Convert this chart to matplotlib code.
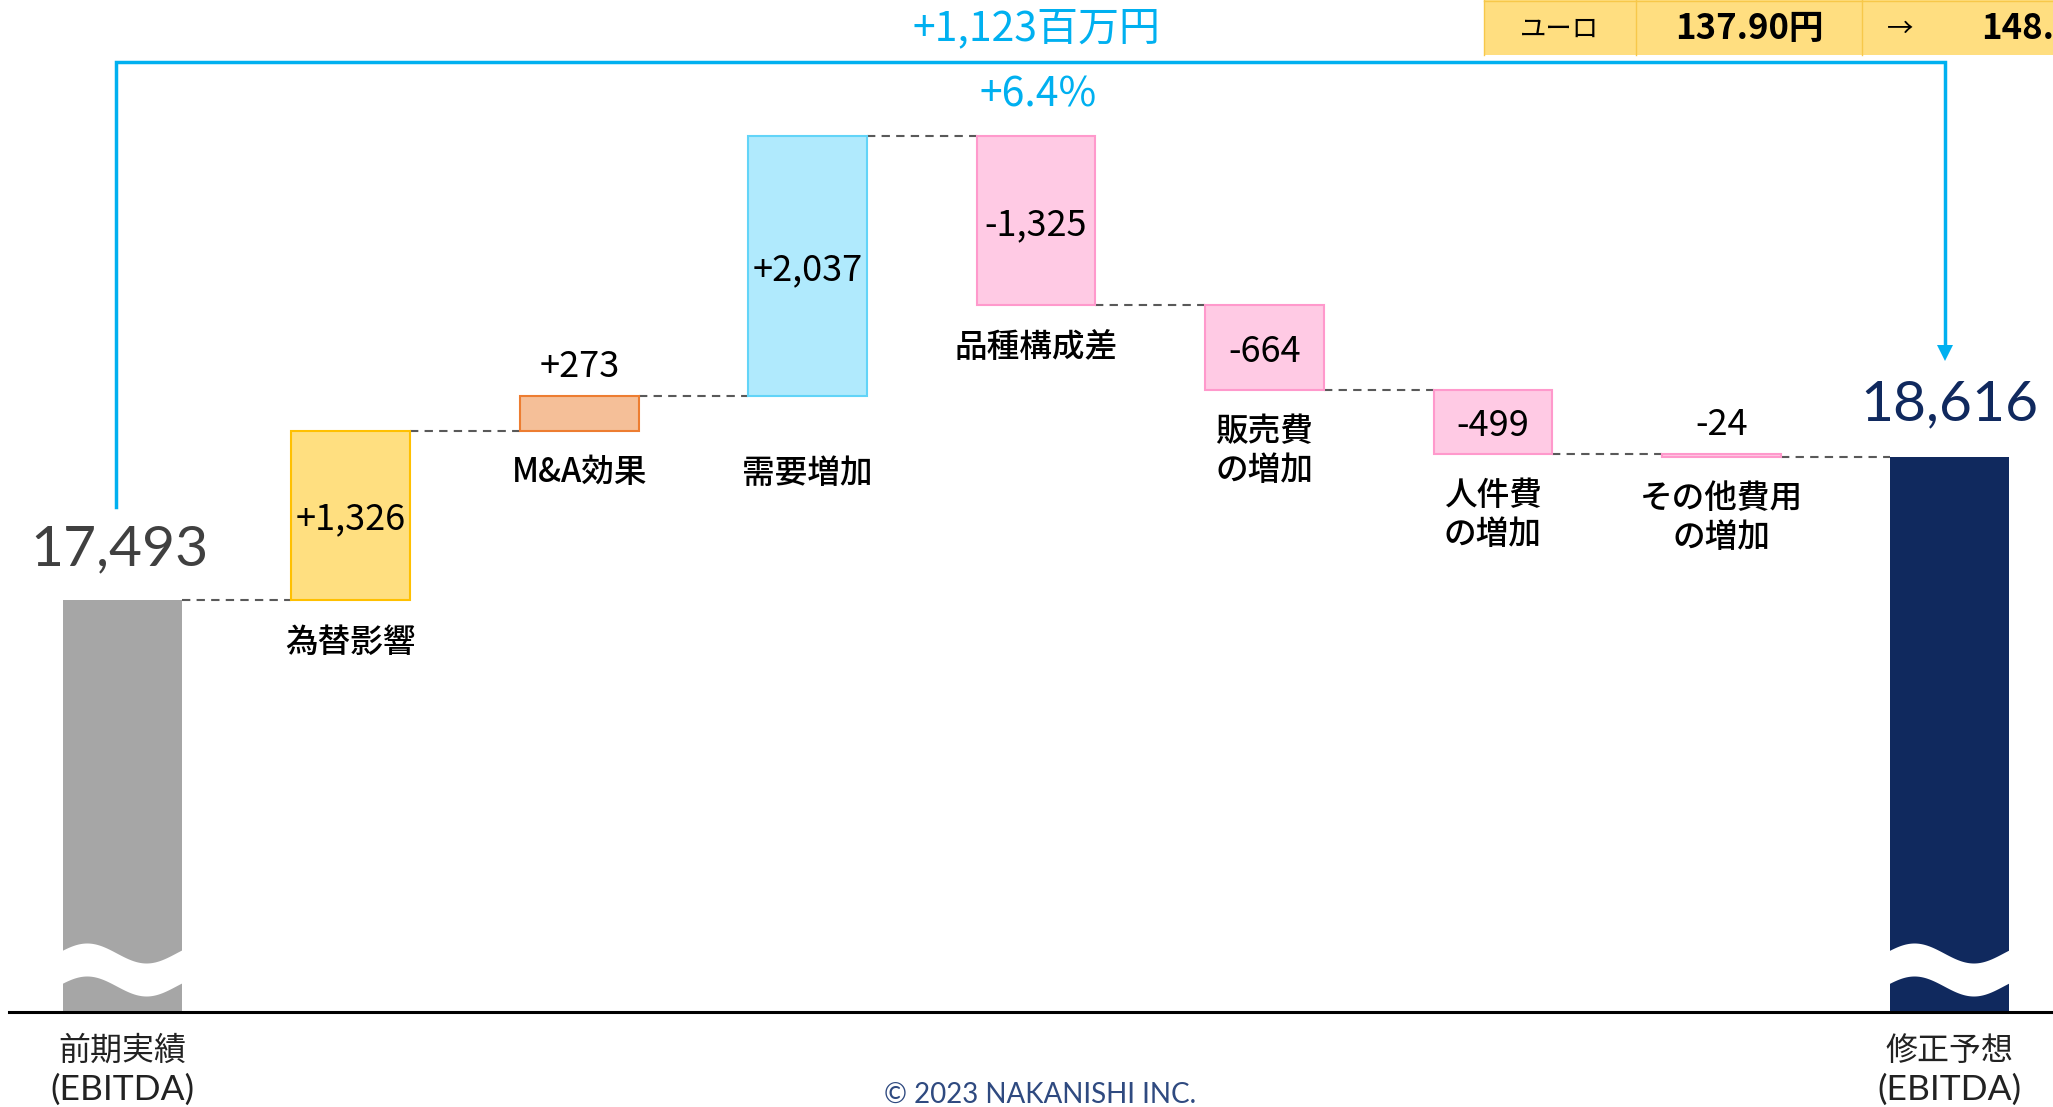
import matplotlib
matplotlib.use("Agg")
import matplotlib.pyplot as plt
import numpy as np
from matplotlib.patches import Rectangle, Polygon

# ---------------- data ----------------
start_value = 17493
end_value = 18616
start_label = "17,493"
end_label = "18,616"
end_bar_labels = ["前期実績\n(EBITDA)", "修正予想\n(EBITDA)"]
delta_categories = ["為替影響", "M&A効果", "需要増加", "品種構成差",
                    "販売費\nの増加", "人件費\nの増加", "その他費用\nの増加"]
deltas = [1326, 273, 2037, -1325, -664, -499, -24]
delta_labels = ["+1,326", "+273", "+2,037", "-1,325", "-664", "-499", "-24"]
total_change_label = "+1,123百万円"
total_change_pct = "+6.4%"
fx_cells = ["ユーロ", "137.90円", "→", "148.80円"]
copyright_text = "© 2023 NAKANISHI INC."

# ---------------- style ----------------
W, H, DPI = 2053, 1107, 100
JP = ["Noto Sans CJK JP", "DejaVu Sans"]
LAT = ["Lato", "Noto Sans CJK JP", "DejaVu Sans"]
plt.rcParams["font.family"] = JP

fills = ["#FFDF80", "#F5BF98", "#B0EAFD", "#FFCAE4", "#FFCAE4", "#FFCAE4", "#FFCAE4"]
edges = ["#FFC000", "#ED7D31", "#62D4F8", "#FF99CC", "#FF99CC", "#FF99CC", "#FF99CC"]
GRAY = "#A6A6A6"
NAVY = "#10295E"
CYAN = "#00B0F0"
BW = 0.52
XL = (-0.536, 8.452)
YL = (13517, 22199)
BASE = 14262  # axis-break baseline

fig = plt.figure(figsize=(W / DPI, H / DPI), dpi=DPI)
ax = fig.add_axes([0, 0, 1, 1])
ax.set_xlim(*XL)
ax.set_ylim(*YL)
ax.axis("off")

ov = fig.add_axes([0, 0, 1, 1], zorder=5)
ov.set_xlim(0, W)
ov.set_ylim(H, 0)
ov.axis("off")
ov.patch.set_alpha(0)


def px(xd):
    return (xd - XL[0]) / (XL[1] - XL[0]) * W


n = len(deltas)
idx = np.arange(1, n + 1)
levels = start_value + np.concatenate([[0], np.cumsum(deltas)])
bottoms = np.minimum(levels[:-1], levels[1:])
heights = np.abs(deltas)

# end bars
ax.bar([0, n + 1], [start_value - BASE, end_value - BASE], bottom=BASE,
       width=BW, color=[GRAY, NAVY], zorder=2)
# delta bars
ax.bar(idx, heights, bottom=bottoms, width=BW, color=fills, edgecolor=edges,
       linewidth=1.5, zorder=2)

# connectors
for i in range(n + 1):
    lv = start_value if i == 0 else levels[i]
    ax.plot([i + BW / 2, i + 1 - BW / 2], [lv, lv], color="#595959", lw=1.5,
            ls=(0, (4, 3)), zorder=1)

# wave breaks on end bars
for i in [0, n + 1]:
    l, r = px(i - BW / 2), px(i + BW / 2)
    xs = np.linspace(l - 2, r + 2, 200)
    t = (xs - l) / (r - l)
    up = 953 - 10 * np.cos(2 * np.pi * (t - 0.2))
    ov.fill_between(xs, up, up + 33, color="white", lw=0)

# baseline
ov.plot([9, W], [1012, 1012], color="black", lw=2.2)

# value labels
small = [1, 6]  # small bars labelled above
for k, (i, lab) in enumerate(zip(idx, delta_labels)):
    top = bottoms[k] + heights[k]
    if k in small:
        ax.annotate(lab, xy=(i, top), xytext=(0, 29), textcoords="offset pixels",
                    ha="center", va="center", fontsize=26, color="black")
    else:
        ax.annotate(lab, xy=(i, bottoms[k] + heights[k] / 2), xytext=(0, -4),
                    textcoords="offset pixels", ha="center", va="center",
                    fontsize=26, color="black")

# category labels below bars
for k, (i, cat) in enumerate(zip(idx, delta_categories)):
    off = 77 if k == 2 else 42
    for j, line in enumerate(cat.split("\n")):
        ax.annotate(line, xy=(i, bottoms[k]), xytext=(0, -(off + 38.5 * j)),
                    textcoords="offset pixels", ha="center", va="center",
                    fontsize=23.5, fontweight="medium", color="black")

# end values
ov.text(px(0) - 3, 550, start_label, ha="center", va="center", fontsize=41,
        family=LAT, color="#404040")
ov.text(px(n + 1), 405, end_label, ha="center", va="center", fontsize=41,
        family=LAT, color=NAVY)

# bottom labels
for i, lab in zip([0, n + 1], end_bar_labels):
    l1, l2 = lab.split("\n")
    ov.text(px(i), 1051, l1, ha="center", va="center", fontsize=23,
            family=JP, color="#222222")
    ov.text(px(i), 1090, l2, ha="center", va="center", fontsize=25.5,
            family=LAT, color="#222222")

# bracket with arrow
ov.plot([116, 116, 1945, 1945], [507, 62, 62, 346], color=CYAN, lw=2.5,
        solid_joinstyle="miter")
ov.add_patch(Polygon([(1937, 345), (1953, 345), (1945, 361)], closed=True,
                     fc=CYAN, ec="none"))
ov.text(1037, 29, total_change_label, ha="center", va="center", fontsize=29.5,
        color=CYAN)
ov.text(1038, 95, total_change_pct, ha="center", va="center", fontsize=29.5,
        color=CYAN)

# FX table
ov.add_patch(Rectangle((1484, 0), W - 1484, 55, fc="#FFDE80", ec="none"))
for xx in [1484, 1636, 1862]:
    ov.plot([xx, xx], [0, 55], color="#F7C84A", lw=1)
ov.plot([1484, W], [1, 1], color="#F7C84A", lw=1)
ov.text(1560, 29, fx_cells[0], ha="center", va="center", fontsize=19, color="black")
ov.text(1749, 29, fx_cells[1], ha="center", va="center", fontsize=25,
        fontweight="bold", color="black")
ov.text(1900, 29, fx_cells[2], ha="center", va="center", fontsize=19, color="black")
ov.text(1981, 29, fx_cells[3], ha="left", va="center", fontsize=25,
        fontweight="bold", color="black")

# copyright
ov.text(1040, 1095, copyright_text, ha="center", va="center", fontsize=20,
        family=LAT, color="#2F4A80")

fig.savefig("out.png", dpi=DPI)
